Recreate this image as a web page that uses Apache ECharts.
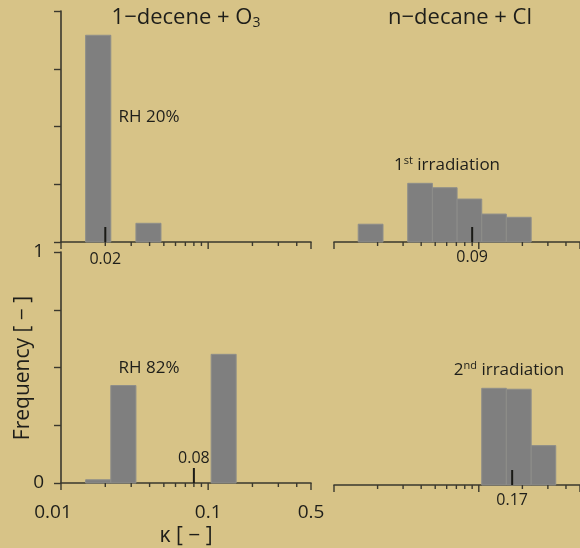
<!DOCTYPE html>
<html>
<head>
<meta charset="utf-8">
<style>
  html, body { margin: 0; padding: 0; background: #d7c387; }
  #chart { width: 580px; height: 548px; }
</style>
<script src="https://cdn.jsdelivr.net/npm/echarts@6/dist/echarts.min.js"></script>
</head>
<body>
<div id="chart"></div>
<script>
// Hygroscopicity parameter (kappa) histograms, log-spaced bins
const binEdges = [0.0147, 0.0218, 0.0323, 0.0478, 0.0708, 0.1048, 0.155, 0.23, 0.34];

// Frequency per bin, one array per panel
const freqDeceneRH20 = [0.895, 0, 0.081, 0, 0, 0, 0, 0];
const freqDeceneRH82 = [0.014, 0.422, 0, 0, 0, 0.557, 0, 0];
const freqDecaneIrr1 = [0.077, 0, 0.254, 0.235, 0.186, 0.121, 0.107, 0];
const freqDecaneIrr2 = [0, 0, 0, 0, 0, 0.415, 0.411, 0.169];

// Median kappa marked on each panel
const medianRH20 = 0.02;
const medianRH82 = 0.08;
const medianIrr1 = 0.09;
const medianIrr2 = 0.17;

// Axis ticks and labels
const xMin = 0.01, xMax = 0.5;
const majorTicks = [0.01, 0.1, 0.5];
const minorTicks = [0.02, 0.03, 0.04, 0.05, 0.06, 0.07, 0.08, 0.09, 0.2, 0.3, 0.4];
const xTickLabels = [0.01, 0.1, 0.5];
const yTickLabels = [0, 1];

const FONT = '"Open Sans", "Noto Sans", sans-serif';
const INK = '#1e1e1a';
const AXIS = '#3a382e';
const BAR = '#7f7f7f';

const grids = [
  { left: 61, top: 11, width: 250, height: 231 },   // 1-decene, RH 20%
  { left: 61, top: 252, width: 250, height: 233 },  // 1-decene, RH 82%
  { left: 334, top: 11, width: 251, height: 231 },  // n-decane, 1st irradiation
  { left: 334, top: 252, width: 251, height: 233 }  // n-decane, 2nd irradiation
];

const xAxes = [];
const yAxes = [];
grids.forEach((g, i) => {
  const showLabels = i === 1;
  xAxes.push({
    type: 'log', logBase: 10, gridIndex: i, min: xMin, max: xMax,
    axisLine: { show: true, lineStyle: { color: AXIS, width: 1.6 } },
    axisTick: { show: false },
    axisLabel: showLabels ? {
      show: true, customValues: xTickLabels, margin: 20, fontSize: 19, fontFamily: FONT, color: INK,
      formatter: v => v === 0.01 ? '{l|0.01}' : String(v),
      rich: { l: { fontSize: 19, fontFamily: FONT, color: INK, padding: [0, 16, 0, 0] } }
    } : { show: false },
    splitLine: { show: false },
    name: showLabels ? 'κ [ − ]' : '',
    nameLocation: 'middle', nameGap: 43,
    nameTextStyle: { fontSize: 21, fontFamily: FONT, color: INK }
  });
  const leftCol = i < 2;
  yAxes.push({
    type: 'value', gridIndex: i, min: 0, max: 1, interval: 0.25, show: leftCol,
    axisLine: { show: true, lineStyle: { color: AXIS, width: 1.6 } },
    axisTick: { show: true, length: 7, lineStyle: { color: AXIS, width: 1.4 } },
    axisLabel: i === 1 ? {
      show: true, customValues: yTickLabels, margin: 17, fontSize: 19, fontFamily: FONT, color: INK,
      formatter: v => String(v)
    } : { show: false },
    splitLine: { show: false }
  });
});

function histData(freq) {
  const out = [];
  freq.forEach((f, k) => { if (f > 0) out.push([binEdges[k], f, binEdges[k + 1]]); });
  return out;
}

function histSeries(freq, gi) {
  return {
    type: 'custom', xAxisIndex: gi, yAxisIndex: gi, silent: true,
    data: histData(freq),
    renderItem: (params, api) => {
      const a = api.coord([api.value(0), api.value(1)]);
      const b = api.coord([api.value(2), 0]);
      return {
        type: 'rect',
        shape: { x: a[0], y: a[1], width: b[0] - a[0], height: b[1] - a[1] },
        style: { fill: BAR, stroke: '#8e8e8a', lineWidth: 1 }
      };
    }
  };
}

// log-axis tick marks: decades long, intermediate values short
function tickSeries(gi) {
  const vals = majorTicks.concat(minorTicks);
  return {
    type: 'custom', xAxisIndex: gi, yAxisIndex: gi, silent: true, clip: false,
    data: vals.map(v => [v, 0]),
    renderItem: (params, api) => {
      const p = api.coord([api.value(0), 0]);
      const len = params.dataIndex < majorTicks.length ? 7 : 4;
      return {
        type: 'line', shape: { x1: p[0], y1: p[1], x2: p[0], y2: p[1] + len },
        style: { stroke: AXIS, lineWidth: 1.4 }
      };
    }
  };
}

// median marker: short vertical stroke up from the axis plus its value
function medianSeries(value, gi, labelDy) {
  return {
    type: 'custom', xAxisIndex: gi, yAxisIndex: gi, silent: true, clip: false,
    data: [[value, 0]],
    renderItem: (params, api) => {
      const p = api.coord([api.value(0), 0]);
      return {
        type: 'group',
        children: [
          { type: 'line', shape: { x1: p[0], y1: p[1], x2: p[0], y2: p[1] - 15 },
            style: { stroke: '#1a1a16', lineWidth: 2 } },
          { type: 'text', x: p[0], y: p[1] + labelDy,
            style: { text: String(api.value(0)), fontSize: 16, fontFamily: FONT, fill: INK,
                     align: 'center', verticalAlign: 'middle' } }
        ]
      };
    }
  };
}

const textStyle = (size) => ({ fontSize: size, fontFamily: FONT, fill: INK });

const option = {
  backgroundColor: '#d7c387',
  animation: false,
  grid: grids.map(g => Object.assign({ containLabel: false }, g)),
  xAxis: xAxes,
  yAxis: yAxes,
  series: [
    histSeries(freqDeceneRH20, 0),
    histSeries(freqDeceneRH82, 1),
    histSeries(freqDecaneIrr1, 2),
    histSeries(freqDecaneIrr2, 3),
    tickSeries(0), tickSeries(1), tickSeries(2), tickSeries(3),
    medianSeries(medianRH20, 0, 17),
    medianSeries(medianRH82, 1, -25),
    medianSeries(medianIrr1, 2, 15),
    medianSeries(medianIrr2, 3, 15)
  ],
  graphic: [
    { type: 'text', x: 186, y: 18,
      style: { text: '1−decene + O{s|3}', align: 'center', verticalAlign: 'middle',
               fontSize: 22, fontFamily: FONT, fill: INK,
               rich: { s: { fontSize: 14, fontFamily: FONT, fill: INK, padding: [11, 0, 0, 0] } } } },
    { type: 'text', x: 460, y: 18,
      style: Object.assign({ text: 'n−decane + Cl', align: 'center', verticalAlign: 'middle' }, textStyle(22)) },
    { type: 'text', x: 23, y: 368, rotation: Math.PI / 2,
      style: Object.assign({ text: 'Frequency [ − ]', align: 'center', verticalAlign: 'middle' }, textStyle(21)) },
    { type: 'text', x: 149, y: 117,
      style: Object.assign({ text: 'RH 20%', align: 'center', verticalAlign: 'middle' }, textStyle(17)) },
    { type: 'text', x: 149, y: 368,
      style: Object.assign({ text: 'RH 82%', align: 'center', verticalAlign: 'middle' }, textStyle(17)) },
    { type: 'text', x: 447, y: 165,
      style: { text: '1{s|st} irradiation', align: 'center', verticalAlign: 'middle',
               fontSize: 17, fontFamily: FONT, fill: INK,
               rich: { s: { fontSize: 11, fontFamily: FONT, fill: INK, padding: [0, 0, 8, 0] } } } },
    { type: 'text', x: 509, y: 370,
      style: { text: '2{s|nd} irradiation', align: 'center', verticalAlign: 'middle',
               fontSize: 17, fontFamily: FONT, fill: INK,
               rich: { s: { fontSize: 11, fontFamily: FONT, fill: INK, padding: [0, 0, 8, 0] } } } }
  ]
};

const chart = echarts.init(document.getElementById('chart'), null, { renderer: 'canvas' });
chart.setOption(option);
</script>
</body>
</html>
